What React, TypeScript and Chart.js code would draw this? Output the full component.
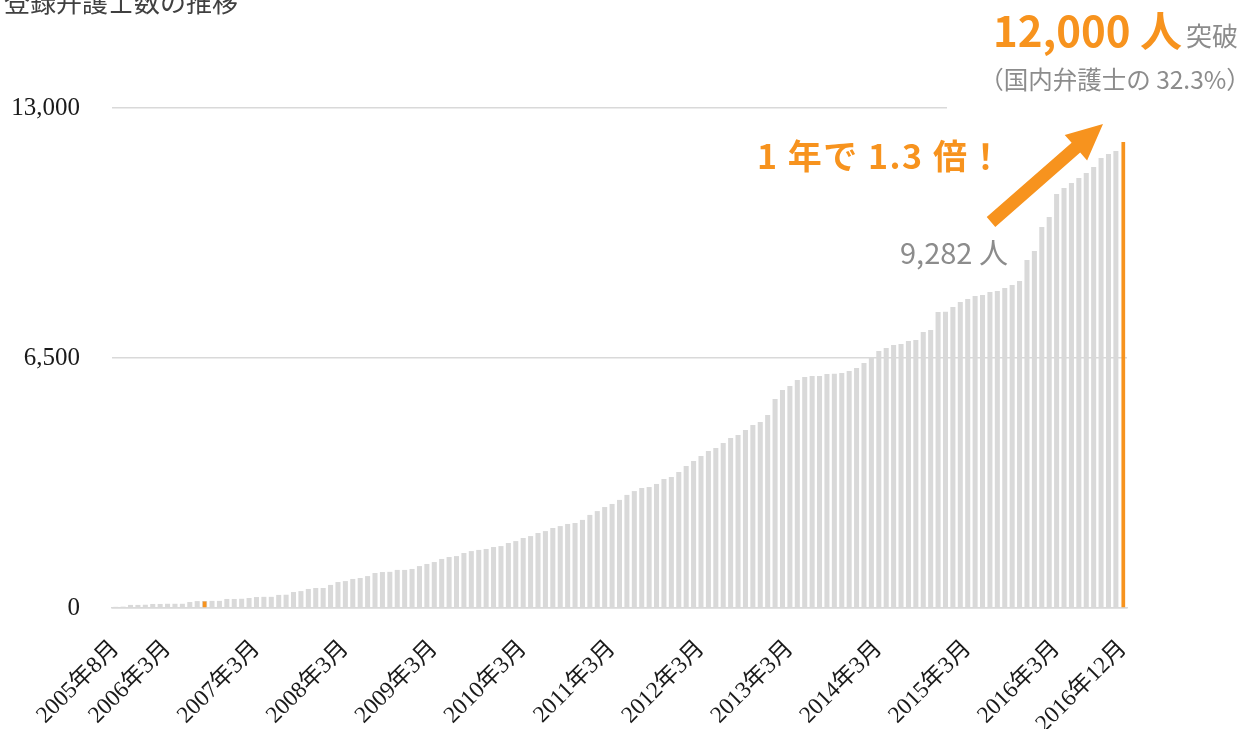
import React, { useEffect, useRef } from "react";
import { Chart, registerables } from "chart.js";

Chart.register(...registerables);

// ---- data ----
const START_YEAR = 2005;
const START_MONTH = 8;
const MONTH_COUNT = 137;
const MONTHS: string[] = [];
for (let i = 0; i < MONTH_COUNT; i++) {
  const m = START_MONTH - 1 + i;
  MONTHS.push(`${START_YEAR + Math.floor(m / 12)}年${(m % 12) + 1}月`);
}

const REGISTERED: number[] = [
  30, 35, 80, 80, 85, 105, 105, 110, 110, 110,
  155, 180, 182, 185, 185, 235, 235, 240, 260, 285,
  290, 290, 340, 345, 415, 440, 495, 520, 520, 600,
  675, 700, 755, 780, 830, 910, 935, 940, 990, 990,
  1015, 1090, 1145, 1195, 1275, 1325, 1350, 1430, 1480, 1510,
  1535, 1585, 1610, 1690, 1740, 1820, 1870, 1950, 2000, 2080,
  2130, 2185, 2210, 2290, 2420, 2520, 2625, 2705, 2810, 2940,
  3040, 3120, 3145, 3225, 3355, 3405, 3535, 3690, 3820, 3950,
  4080, 4160, 4290, 4420, 4500, 4630, 4760, 4835, 5020, 5435,
  5670, 5770, 5930, 6005, 6030, 6035, 6085, 6090, 6110, 6160,
  6240, 6370, 6525, 6680, 6760, 6840, 6865, 6940, 6970, 7175,
  7230, 7695, 7700, 7825, 7955, 8035, 8110, 8140, 8215, 8240,
  8320, 8400, 8500, 9050, 9282, 9905, 10165, 10765, 10920, 11050,
  11180, 11310, 11465, 11700, 11805, 11880, 12116,
];

const HIGHLIGHT_MONTHS = ["2006年8月", "2016年12月"];
const HIGHLIGHT_VALUES = [170, 12116];

const SHOWN_TICKS = [
  "2005年8月", "2006年3月", "2007年3月", "2008年3月", "2009年3月",
  "2010年3月", "2011年3月", "2012年3月", "2013年3月", "2014年3月",
  "2015年3月", "2016年3月", "2016年12月",
];
const Y_MAX = 13000;
const Y_STEP = 6500;

const TITLE = "登録弁護士数の推移";
const HEADLINE_NUM = "12,000 人";
const HEADLINE_SUFFIX = "突破";
const HEADLINE_SUB = "（国内弁護士の 32.3%）";
const GROWTH_TEXT = "1 年で 1.3 倍！";
const PREV_TEXT = "9,282 人";

// ---- styles ----
const ORANGE = "#F7931E";
const BAR_GRAY = "#D9D9D9";
const TEXT_GRAY = "#8C8C8C";
const SANS = '"Noto Sans CJK JP", "Noto Sans", sans-serif';
const SERIF = '"Liberation Serif", "DejaVu Serif", "Noto Sans CJK JP", serif';

const annotate = {
  id: "annotate",
  afterDraw(chart: any) {
    const ctx: any = chart.ctx;
    ctx.save();
    // hide gridline behind headline block
    ctx.fillStyle = "#ffffff";
    ctx.fillRect(947, 96, 313, 24);

    // title
    ctx.fillStyle = "#404040";
    ctx.font = `26px ${SANS}`;
    ctx.textAlign = "left";
    ctx.textBaseline = "alphabetic";
    ctx.fillText(TITLE, 4, 12);

    // headline
    ctx.fillStyle = ORANGE;
    ctx.font = `bold 42px ${SANS}`;
    ctx.textAlign = "right";
    ctx.fillText(HEADLINE_NUM, 1182, 47);
    ctx.fillStyle = TEXT_GRAY;
    ctx.font = `26px ${SANS}`;
    ctx.textAlign = "left";
    ctx.fillText(HEADLINE_SUFFIX, 1186, 46);

    ctx.font = `24.5px ${SANS}`;
    ctx.textAlign = "center";
    ctx.fillText(HEADLINE_SUB, 1115, 89);

    // growth text
    ctx.fillStyle = ORANGE;
    ctx.font = `bold 34px ${SANS}`;
    ctx.textAlign = "left";
    ctx.letterSpacing = "1.5px";
    ctx.fillText(GROWTH_TEXT, 757, 169);
    ctx.letterSpacing = "0px";

    // previous value
    ctx.fillStyle = TEXT_GRAY;
    ctx.font = `29px ${SANS}`;
    ctx.textAlign = "left";
    ctx.fillText(PREV_TEXT, 900, 264);

    // arrow
    const x0 = 991, y0 = 222, x1 = 1103, y1 = 124;
    const dx = x1 - x0, dy = y1 - y0;
    const len = Math.hypot(dx, dy);
    const ux = dx / len, uy = dy / len;
    const px = -uy, py = ux;
    const shaftW = 6.5, headW = 17, headL = 36;
    const bx = x1 - ux * headL, by = y1 - uy * headL;
    ctx.fillStyle = ORANGE;
    ctx.beginPath();
    ctx.moveTo(x0 + px * shaftW, y0 + py * shaftW);
    ctx.lineTo(bx + px * shaftW, by + py * shaftW);
    ctx.lineTo(bx + px * headW, by + py * headW);
    ctx.lineTo(x1, y1);
    ctx.lineTo(bx - px * headW, by - py * headW);
    ctx.lineTo(bx - px * shaftW, by - py * shaftW);
    ctx.lineTo(x0 - px * shaftW, y0 - py * shaftW);
    ctx.closePath();
    ctx.fill();
    ctx.restore();
  },
};

export default function App() {
  const ref = useRef<HTMLCanvasElement | null>(null);

  useEffect(() => {
    if (!ref.current) return;
    const grayData = REGISTERED.map((v, i) =>
      MONTHS[i] === "2016年12月" ? null : v
    );
    const orangeData = MONTHS.map((m) => {
      const k = HIGHLIGHT_MONTHS.indexOf(m);
      return k >= 0 ? HIGHLIGHT_VALUES[k] : null;
    });
    const chart = new Chart(ref.current, {
      type: "bar",
      data: {
        labels: MONTHS,
        datasets: [
          {
            data: orangeData,
            backgroundColor: ORANGE,
            barPercentage: 0.5,
            categoryPercentage: 1,
            grouped: false,
            order: 0,
          } as any,
          {
            data: grayData,
            backgroundColor: BAR_GRAY,
            barPercentage: 0.68,
            categoryPercentage: 1,
            grouped: false,
            order: 1,
          } as any,
        ],
      },
      options: {
        animation: false,
        responsive: true,
        maintainAspectRatio: false,
        layout: { padding: { top: 108, right: 133, left: 0, bottom: 0 } },
        plugins: {
          legend: { display: false },
          tooltip: { enabled: false },
          title: { display: false },
        },
        scales: {
          x: {
            grid: { display: false },
            border: { display: true, color: BAR_GRAY, width: 1.5 },
            ticks: {
              autoSkip: false,
              maxRotation: 45,
              minRotation: 45,
              padding: 19,
              color: "#1a1a1a",
              font: { family: SERIF, size: 23.5 },
              callback: (_v: any, i: number) =>
                SHOWN_TICKS.includes(MONTHS[i]) ? MONTHS[i] : null,
            },
            afterFit: (s: any) => {
              s.height = 121;
            },
          },
          y: {
            min: 0,
            max: Y_MAX,
            grid: { color: BAR_GRAY, lineWidth: 1.5, drawTicks: false },
            border: { display: false },
            ticks: {
              stepSize: Y_STEP,
              padding: 32,
              color: "#1a1a1a",
              font: { family: SERIF, size: 25 },
              callback: (v: any) => Number(v).toLocaleString("en-US"),
            },
            afterFit: (s: any) => {
              s.width = 112;
            },
          },
        },
      },
      plugins: [annotate],
    });
    return () => chart.destroy();
  }, []);

  return (
    <div
      style={{
        position: "absolute",
        left: 0,
        top: 0,
        width: 1260,
        height: 729,
        background: "#fff",
      }}
    >
      <canvas ref={ref} />
    </div>
  );
}
